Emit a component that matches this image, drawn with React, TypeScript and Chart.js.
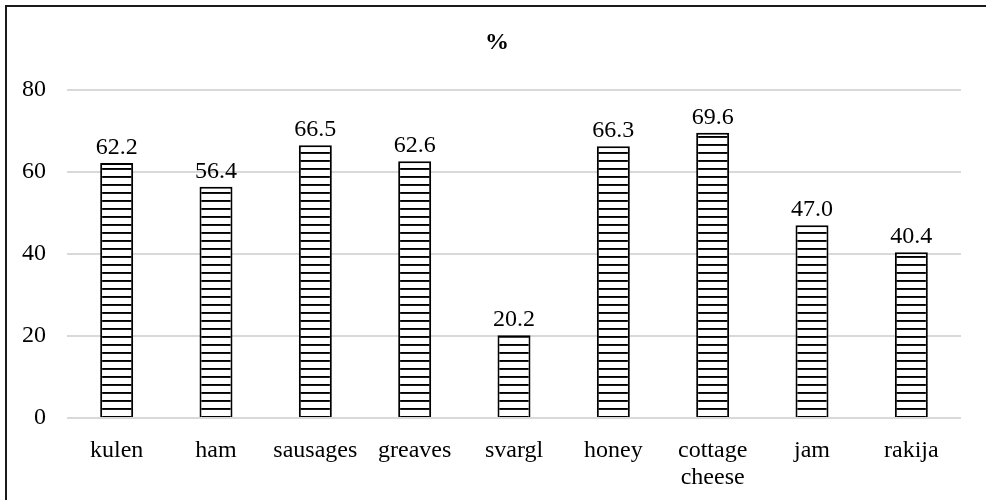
import React, { useEffect, useRef } from "react";
import { Chart, registerables } from "chart.js";

Chart.register(...registerables);

const categories: (string | string[])[] = [
  "kulen",
  "ham",
  "sausages",
  "greaves",
  "svargl",
  "honey",
  ["cottage", "cheese"],
  "jam",
  "rakija",
];
const values: number[] = [62.2, 56.4, 66.5, 62.6, 20.2, 66.3, 69.6, 47.0, 40.4];
const yMin = 0;
const yMax = 80;
const yStep = 20;
const titleText = "%";

const FONT = '"Liberation Serif", "Times New Roman", Times, serif';

function makePattern(): CanvasPattern | string {
  const c = document.createElement("canvas");
  c.width = 8;
  c.height = 8;
  const ctx = c.getContext("2d");
  if (!ctx) return "#ffffff";
  ctx.fillStyle = "#ffffff";
  ctx.fillRect(0, 0, 8, 8);
  ctx.fillStyle = "#000000";
  ctx.fillRect(0, 0, 8, 1.9);
  const p = ctx.createPattern(c, "repeat");
  return p || "#ffffff";
}

const framePlugin = {
  id: "frame",
  beforeDraw(chart: any) {
    const ctx = chart.ctx;
    ctx.save();
    ctx.fillStyle = "#ffffff";
    ctx.fillRect(0, 0, chart.width, chart.height);
    ctx.strokeStyle = "#1a1a1a";
    ctx.lineWidth = 2;
    ctx.strokeRect(6, 6, chart.width + 20, chart.height + 20);
    ctx.font = `bold 24px ${FONT}`;
    ctx.fillStyle = "#000000";
    ctx.textAlign = "center";
    ctx.textBaseline = "middle";
    ctx.fillText(titleText, 497, 43);
    ctx.restore();
  },
};

const labelPlugin = {
  id: "valueLabels",
  afterDatasetsDraw(chart: any) {
    const ctx = chart.ctx;
    const meta = chart.getDatasetMeta(0);
    ctx.save();
    ctx.font = `24px ${FONT}`;
    ctx.fillStyle = "#000000";
    ctx.textAlign = "center";
    ctx.textBaseline = "alphabetic";
    meta.data.forEach((bar: any, i: number) => {
      ctx.fillText(values[i].toFixed(1), bar.x, bar.y - 9);
    });
    ctx.restore();
  },
};

export default function App() {
  const ref = useRef<HTMLCanvasElement | null>(null);

  useEffect(() => {
    let chart: Chart | null = null;
    let cancelled = false;
    const build = () => {
      if (cancelled || !ref.current) return;
      chart = new Chart(ref.current, {
        type: "bar",
        data: {
          labels: categories,
          datasets: [
            {
              data: values,
              backgroundColor: makePattern() as any,
              borderColor: "#000000",
              borderWidth: 2,
              categoryPercentage: 1,
              barPercentage: 0.332,
            },
          ],
        },
        options: {
          animation: false,
          responsive: false,
          devicePixelRatio: 1,
          layout: { padding: { left: 0, right: 25, top: 90, bottom: 0 } },
          plugins: {
            legend: { display: false },
            tooltip: { enabled: false },
            title: { display: false },
          },
          scales: {
            x: {
              grid: { display: false },
              border: { display: false },
              ticks: {
                color: "#000000",
                font: { family: FONT, size: 24, lineHeight: 1.1 },
                padding: 12,
                maxRotation: 0,
                autoSkip: false,
              },
              afterFit(scale: any) {
                scale.height = 82;
              },
            },
            y: {
              min: yMin,
              max: yMax,
              grid: { color: "#d9d9d9", lineWidth: 2, drawTicks: false },
              border: { display: false },
              ticks: {
                stepSize: yStep,
                color: "#000000",
                font: { family: FONT, size: 24 },
                padding: 21,
              },
              afterFit(scale: any) {
                scale.width = 67;
              },
            },
          },
        },
        plugins: [framePlugin, labelPlugin],
      });
    };
    const fonts: any = (document as any).fonts;
    if (fonts && fonts.load) {
      Promise.all([
        fonts.load('24px "Liberation Serif"'),
        fonts.load('bold 24px "Liberation Serif"'),
      ])
        .catch(() => null)
        .then(build);
    } else {
      build();
    }
    return () => {
      cancelled = true;
      if (chart) chart.destroy();
    };
  }, []);

  return (
    <div style={{ position: "absolute", left: 0, top: 0, width: 986, height: 500, background: "#fff" }}>
      <canvas ref={ref} width={986} height={500} style={{ width: 986, height: 500, display: "block" }} />
    </div>
  );
}
